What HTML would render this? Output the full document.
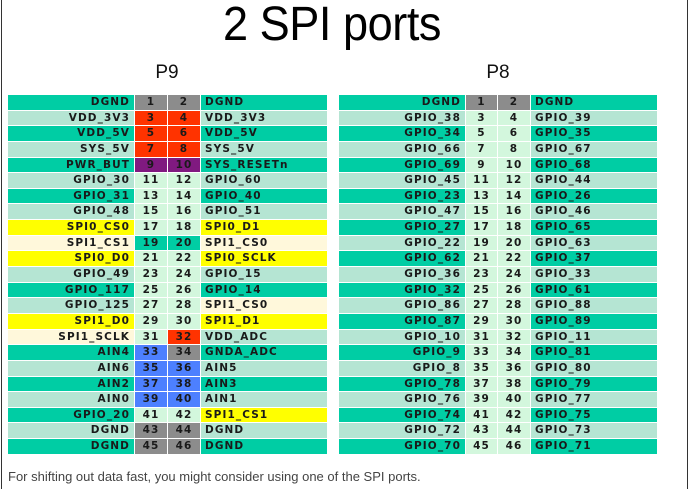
<!DOCTYPE html>
<html><head><meta charset="utf-8"><style>
*{margin:0;padding:0;box-sizing:border-box}
body{width:691px;height:489px;background:#fff;position:relative;overflow:hidden;font-family:"Liberation Sans",sans-serif}
.bl{position:absolute;left:1px;top:0;width:1px;height:489px;background:#333}
.br{position:absolute;left:687px;top:0;width:1px;height:489px;background:#333}
h1{position:absolute;left:0;width:664px;top:0;text-align:center;font-weight:normal;font-size:48px;line-height:50px;letter-spacing:-0.5px;color:#000;transform:scaleX(0.94)}
.p{position:absolute;top:62px;font-size:19px;color:#111;width:60px;text-align:center}
.g{position:absolute;top:95px;display:grid;grid-template-rows:repeat(23,14.65px);row-gap:1px;column-gap:1px;font-family:"DejaVu Sans",sans-serif;font-weight:bold;font-size:10.5px;letter-spacing:1.1px;color:#1a1a1a}
.g div{line-height:15px;white-space:nowrap;overflow:hidden}
.l{text-align:right;padding-right:4px}
.r{text-align:left;padding-left:4px}
.n{text-align:center}
.T{background:#00cda4}.L{background:#b5e5d3}.Y{background:#ffff00}.C{background:#fff8db}
.N{background:#d3f7dd}.G{background:#8c8c8c}.R{background:#ff3300}.P{background:#801a80}.B{background:#4d80ff}
.foot{position:absolute;left:8px;top:469px;font-size:13px;color:#444}
</style></head><body>
<div class="bl"></div><div class="br"></div>
<h1>2 SPI ports</h1>
<div class="p" style="left:137px">P9</div>
<div class="p" style="left:468px">P8</div>
<div class="g" style="left:8px;grid-template-columns:126px 32px 32px 126px">
<div class="l T">DGND</div><div class="n G">1</div><div class="n G">2</div><div class="r T">DGND</div>
<div class="l L">VDD_3V3</div><div class="n R">3</div><div class="n R">4</div><div class="r L">VDD_3V3</div>
<div class="l T">VDD_5V</div><div class="n R">5</div><div class="n R">6</div><div class="r T">VDD_5V</div>
<div class="l L">SYS_5V</div><div class="n R">7</div><div class="n R">8</div><div class="r L">SYS_5V</div>
<div class="l T">PWR_BUT</div><div class="n P">9</div><div class="n P">10</div><div class="r T">SYS_RESETn</div>
<div class="l L">GPIO_30</div><div class="n N">11</div><div class="n N">12</div><div class="r L">GPIO_60</div>
<div class="l T">GPIO_31</div><div class="n N">13</div><div class="n N">14</div><div class="r T">GPIO_40</div>
<div class="l L">GPIO_48</div><div class="n N">15</div><div class="n N">16</div><div class="r L">GPIO_51</div>
<div class="l Y">SPI0_CS0</div><div class="n N">17</div><div class="n N">18</div><div class="r Y">SPI0_D1</div>
<div class="l C">SPI1_CS1</div><div class="n T">19</div><div class="n T">20</div><div class="r C">SPI1_CS0</div>
<div class="l Y">SPI0_D0</div><div class="n N">21</div><div class="n N">22</div><div class="r Y">SPI0_SCLK</div>
<div class="l L">GPIO_49</div><div class="n N">23</div><div class="n N">24</div><div class="r L">GPIO_15</div>
<div class="l T">GPIO_117</div><div class="n N">25</div><div class="n N">26</div><div class="r T">GPIO_14</div>
<div class="l L">GPIO_125</div><div class="n N">27</div><div class="n N">28</div><div class="r C">SPI1_CS0</div>
<div class="l Y">SPI1_D0</div><div class="n N">29</div><div class="n N">30</div><div class="r Y">SPI1_D1</div>
<div class="l C">SPI1_SCLK</div><div class="n N">31</div><div class="n R">32</div><div class="r L">VDD_ADC</div>
<div class="l T">AIN4</div><div class="n B">33</div><div class="n G">34</div><div class="r T">GNDA_ADC</div>
<div class="l L">AIN6</div><div class="n B">35</div><div class="n B">36</div><div class="r L">AIN5</div>
<div class="l T">AIN2</div><div class="n B">37</div><div class="n B">38</div><div class="r T">AIN3</div>
<div class="l L">AIN0</div><div class="n B">39</div><div class="n B">40</div><div class="r L">AIN1</div>
<div class="l T">GPIO_20</div><div class="n N">41</div><div class="n N">42</div><div class="r Y">SPI1_CS1</div>
<div class="l L">DGND</div><div class="n G">43</div><div class="n G">44</div><div class="r L">DGND</div>
<div class="l T">DGND</div><div class="n G">45</div><div class="n G">46</div><div class="r T">DGND</div>
</div>
<div class="g" style="left:339px;grid-template-columns:126px 31px 32px 126px">
<div class="l T">DGND</div><div class="n G">1</div><div class="n G">2</div><div class="r T">DGND</div>
<div class="l L">GPIO_38</div><div class="n N">3</div><div class="n N">4</div><div class="r L">GPIO_39</div>
<div class="l T">GPIO_34</div><div class="n N">5</div><div class="n N">6</div><div class="r T">GPIO_35</div>
<div class="l L">GPIO_66</div><div class="n N">7</div><div class="n N">8</div><div class="r L">GPIO_67</div>
<div class="l T">GPIO_69</div><div class="n N">9</div><div class="n N">10</div><div class="r T">GPIO_68</div>
<div class="l L">GPIO_45</div><div class="n N">11</div><div class="n N">12</div><div class="r L">GPIO_44</div>
<div class="l T">GPIO_23</div><div class="n N">13</div><div class="n N">14</div><div class="r T">GPIO_26</div>
<div class="l L">GPIO_47</div><div class="n N">15</div><div class="n N">16</div><div class="r L">GPIO_46</div>
<div class="l T">GPIO_27</div><div class="n N">17</div><div class="n N">18</div><div class="r T">GPIO_65</div>
<div class="l L">GPIO_22</div><div class="n N">19</div><div class="n N">20</div><div class="r L">GPIO_63</div>
<div class="l T">GPIO_62</div><div class="n N">21</div><div class="n N">22</div><div class="r T">GPIO_37</div>
<div class="l L">GPIO_36</div><div class="n N">23</div><div class="n N">24</div><div class="r L">GPIO_33</div>
<div class="l T">GPIO_32</div><div class="n N">25</div><div class="n N">26</div><div class="r T">GPIO_61</div>
<div class="l L">GPIO_86</div><div class="n N">27</div><div class="n N">28</div><div class="r L">GPIO_88</div>
<div class="l T">GPIO_87</div><div class="n N">29</div><div class="n N">30</div><div class="r T">GPIO_89</div>
<div class="l L">GPIO_10</div><div class="n N">31</div><div class="n N">32</div><div class="r L">GPIO_11</div>
<div class="l T">GPIO_9</div><div class="n N">33</div><div class="n N">34</div><div class="r T">GPIO_81</div>
<div class="l L">GPIO_8</div><div class="n N">35</div><div class="n N">36</div><div class="r L">GPIO_80</div>
<div class="l T">GPIO_78</div><div class="n N">37</div><div class="n N">38</div><div class="r T">GPIO_79</div>
<div class="l L">GPIO_76</div><div class="n N">39</div><div class="n N">40</div><div class="r L">GPIO_77</div>
<div class="l T">GPIO_74</div><div class="n N">41</div><div class="n N">42</div><div class="r T">GPIO_75</div>
<div class="l L">GPIO_72</div><div class="n N">43</div><div class="n N">44</div><div class="r L">GPIO_73</div>
<div class="l T">GPIO_70</div><div class="n N">45</div><div class="n N">46</div><div class="r T">GPIO_71</div>
</div>
<div class="foot">For shifting out data fast, you might consider using one of the SPI ports.</div>
</body></html>
